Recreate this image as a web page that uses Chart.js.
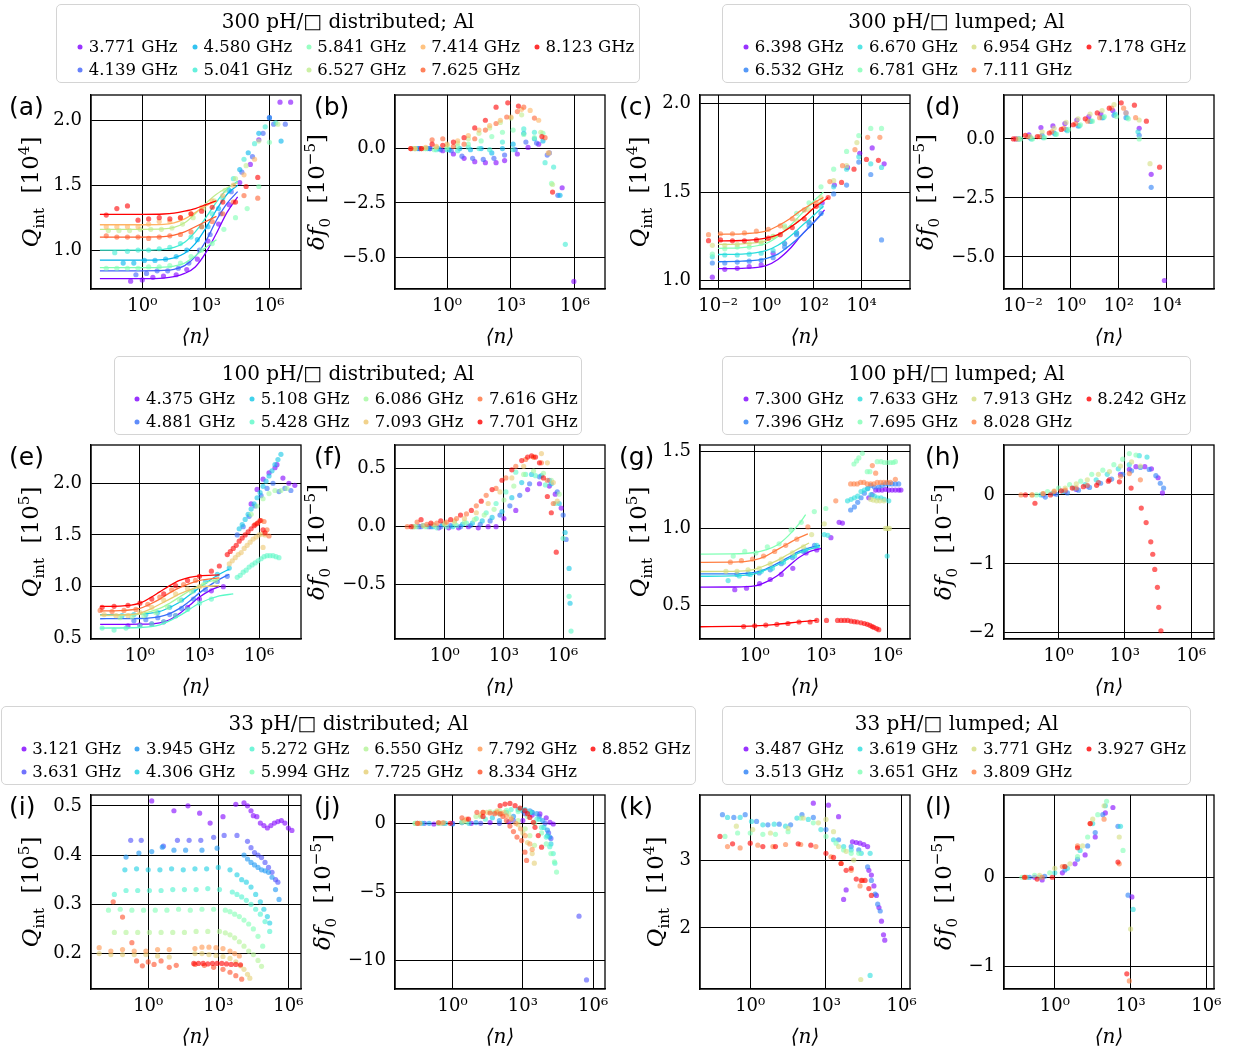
<!DOCTYPE html>
<html lang="en">
<head>
<meta charset="UTF-8" />
<title>Q_int and δf0 versus photon number</title>
<script src="https://cdn.jsdelivr.net/npm/chart.js"></script>
<style>
  body { margin: 0; background: #fff; }
  #fig { position: relative; width: 1237px; height: 1053px; overflow: hidden; font-family: 'DejaVu Serif', serif; color: #000; }
  .cell { position: absolute; }
  .tag { position: absolute; font-family: 'DejaVu Sans', sans-serif; font-size: 25px; line-height: 1; }
  .ylab { position: absolute; font-size: 23px; line-height: 1; white-space: nowrap; transform: translate(-50%, -50%) rotate(-90deg); z-index: 5; }
  .ylab sub, .ylab sup { font-size: 15px; }
  .legend { position: absolute; box-sizing: border-box; border: 1.5px solid #d4d4d4; border-radius: 5px; background: #fff; }
  .legend .ttl { position: absolute; left: 0; right: 0; text-align: center; font-size: 20px; line-height: 1; transform: translateY(-50%); white-space: nowrap; }
  .legend .item { position: absolute; font-size: 16.5px; line-height: 1; white-space: nowrap; transform: translateY(-50%); }
  .legend .dot { position: absolute; width: 5px; height: 5px; border-radius: 50%; transform: translate(-50%, -50%); }
</style>
</head>
<body>
<div id="fig"></div>
<script>
// x values are stored as log10(<n>), y values in the units printed on each axis

// ---- legend labels (resonance frequencies) ----
const f300dist = ['3.771', '4.139', '4.580', '5.041', '5.841', '6.527', '7.414', '7.625', '8.123'];
const f300lump = ['6.398', '6.532', '6.670', '6.781', '6.954', '7.111', '7.178'];
const f100dist = ['4.375', '4.881', '5.108', '5.428', '6.086', '7.093', '7.616', '7.701'];
const f100lump = ['7.300', '7.396', '7.633', '7.695', '7.913', '8.028', '8.242'];
const f33dist = ['3.121', '3.631', '3.945', '4.306', '5.272', '5.994', '6.550', '7.725', '7.792', '8.334', '8.852'];
const f33lump = ['3.487', '3.513', '3.619', '3.651', '3.771', '3.809', '3.927'];

// ---- tick labels ----
const xt3 = [0, 3, 6], xl3 = ['10⁰', '10³', '10⁶'];
const xt4 = [-2, 0, 2, 4], xl4 = ['10⁻²', '10⁰', '10²', '10⁴'];

// ---- (a) Q_int [1e4], 300 pH distributed ----
const aPts = [
  [[-0.55,0.76],[0,0.77],[0.5,0.79],[1.0,0.8],[1.6,0.81],[2.1,0.85],[2.6,0.93],[3.1,1.07],[3.6,1.2],[4.1,1.35],[4.6,1.52],[5.1,1.66],[5.5,1.85],[6.0,2.02],[6.5,2.14],[7.0,2.14]],
  [[-0.3,0.81],[0.2,0.82],[0.7,0.84],[1.2,0.84],[1.7,0.86],[2.2,0.9],[2.7,1.0],[3.2,1.12],[3.7,1.28],[4.2,1.45],[4.7,1.6],[5.2,1.72],[5.7,1.9],[6.2,1.97],[6.75,1.97]],
  [[-0.9,0.9],[-0.4,0.9],[0.1,0.92],[0.6,0.92],[1.1,0.93],[1.6,0.95],[2.1,1.0],[2.6,1.08],[3.1,1.18],[3.6,1.32],[4.1,1.46],[4.6,1.62],[5.0,1.75],[5.5,1.9],[6.0,2.02],[6.55,1.84]],
  [[-1.3,0.98],[-0.7,0.99],[-0.2,1.0],[0.3,1.0],[0.8,1.01],[1.3,1.02],[1.8,1.05],[2.3,1.1],[2.8,1.18],[3.3,1.28],[3.8,1.4],[4.3,1.55],[4.8,1.7],[5.3,1.82],[5.8,1.95],[6.3,1.98]],
  [[-1.7,0.86],[-1.2,0.86],[-0.7,0.86],[-0.2,0.86],[0.3,0.87],[0.8,0.87],[1.3,0.88],[1.8,0.9],[2.3,0.95],[2.8,1.0],[3.3,1.05],[3.85,1.16],[4.4,1.25],[4.95,1.32],[5.5,1.49],[6.0,1.83]],
  [[-1.6,1.15],[-1.1,1.15],[-0.6,1.15],[-0.1,1.16],[0.4,1.16],[0.9,1.16],[1.4,1.17],[1.9,1.2],[2.4,1.25],[2.9,1.32],[3.4,1.38],[3.9,1.46],[4.4,1.55],[4.9,1.65],[5.5,1.84],[6.4,1.97]],
  [[-1.7,1.18],[-1.2,1.18],[-0.7,1.18],[-0.2,1.18],[0.3,1.2],[0.8,1.22],[1.3,1.22],[1.8,1.25],[2.3,1.28],[2.8,1.33],[3.3,1.38],[3.8,1.42],[4.3,1.5],[4.8,1.58],[5.3,1.7]],
  [[-1.7,1.11],[-1.2,1.1],[-0.7,1.1],[-0.2,1.1],[0.3,1.09],[0.8,1.1],[1.3,1.11],[1.8,1.12],[2.3,1.14],[2.8,1.18],[3.3,1.22],[3.8,1.28],[4.3,1.37],[4.8,1.42],[5.45,1.4]],
  [[-1.7,1.27],[-1.2,1.32],[-0.7,1.34],[-0.2,1.23],[0.3,1.24],[0.8,1.25],[1.3,1.24],[1.8,1.25],[2.3,1.28],[2.8,1.3],[3.3,1.33],[3.8,1.37],[4.4,1.37],[4.9,1.49],[5.45,1.56]]
];
const aFit = [
  [[-2,0.78],[0,0.78],[1,0.784],[1.5,0.795],[2,0.82],[2.5,0.87],[3,0.98],[3.5,1.13],[4,1.29],[4.5,1.41]],
  [[-2,0.84],[0,0.84],[1,0.843],[1.5,0.852],[2,0.88],[2.5,0.95],[3,1.07],[3.5,1.23],[4,1.36],[4.5,1.45]],
  [[-2,0.923],[0,0.923],[1,0.927],[1.5,0.94],[2,0.975],[2.5,1.05],[3,1.17],[3.5,1.31],[4,1.43],[4.5,1.5]],
  [[-2,1.0],[0,1.0],[1,1.006],[1.5,1.02],[2,1.06],[2.5,1.14],[3,1.25],[3.5,1.37],[4,1.47],[4.5,1.53]],
  [[-2,0.864],[0,0.864],[1,0.868],[1.5,0.877],[2,0.9],[2.5,0.955],[3,1.02],[3.5,1.08]],
  [[-2,1.16],[0,1.16],[1,1.163],[1.5,1.175],[2,1.21],[2.5,1.28],[3,1.36],[3.5,1.43],[4,1.48],[4.5,1.52]],
  [[-2,1.195],[0,1.195],[1,1.198],[1.5,1.21],[2,1.24],[2.5,1.29],[3,1.34],[3.5,1.38]],
  [[-2,1.1],[0,1.1],[1,1.103],[1.5,1.115],[2,1.14],[2.5,1.18],[3,1.22],[3.5,1.26]],
  [[-2,1.275],[0,1.275],[1,1.278],[1.5,1.285],[2,1.3],[2.5,1.32],[3,1.35],[3.5,1.38]]
];

// ---- (b) δf0 [1e-5], 300 pH distributed ----
const bPts = [
  [[-1.3,0],[-0.8,0],[-0.2,-0.1],[0.3,-0.25],[0.8,-0.45],[1.3,-0.6],[1.8,-0.65],[2.3,-0.65],[2.7,-0.55],[3.3,-0.25],[3.8,0.05],[4.3,0.2],[4.8,-0.2],[5.4,-1.8],[5.95,-6.1]],
  [[-1.3,0],[-0.8,0],[-0.3,-0.05],[0.2,-0.1],[0.7,-0.35],[1.2,-0.45],[1.7,-0.5],[2.2,-0.45],[2.7,-0.3],[3.2,-0.05],[3.7,0.3],[4.2,0.25],[4.7,-0.3],[5.2,-2.15]],
  [[-1.4,0],[-0.9,0],[-0.4,0],[0.1,-0.05],[0.6,0],[1.1,-0.05],[1.6,0],[2.1,-0.2],[2.6,0],[3.1,0.2],[3.6,0.7],[4.1,0.45],[4.5,0.35],[5.3,-2.15]],
  [[-1.5,0],[-1,0],[-0.5,-0.05],[0,-0.05],[0.5,-0.1],[1,0.05],[1.5,0],[2,-0.05],[2.6,0.3],[3.1,-0.05],[3.6,0.9],[4.1,0.75],[4.6,-0.65],[5.0,-0.85],[5.55,-4.4]],
  [[-1.6,0],[-1.1,0],[-0.6,-0.05],[0,0.05],[0.5,0.1],[1,0.2],[1.6,0.35],[2.1,0.55],[2.6,0.75],[3.1,0.85],[3.6,0.65],[4.1,0.5],[4.5,0.7],[4.9,-1.6]],
  [[-1.5,0],[-1,0],[-0.5,0.05],[0,0.15],[0.5,0.25],[1,0.45],[1.5,0.7],[2,0.95],[2.5,1.2],[3,1.4],[3.5,1.55],[4.4,0.75],[4.8,-0.2],[4.95,-1.65]],
  [[-1.5,0],[-1,0.05],[-0.5,0.1],[0,0.2],[0.5,0.35],[1,0.6],[1.5,0.85],[2,1.05],[2.5,1.3],[3,1.45],[3.5,1.8],[3.9,1.75],[4.3,1.3],[4.75,-0.2]],
  [[-1.7,0],[-1.2,0],[-0.7,0.4],[-0.2,0.45],[0.3,0.1],[0.8,0.2],[1.3,0.45],[1.8,0.85],[2.3,1.15],[2.8,1.45],[3.3,1.7],[3.6,1.9],[4.1,1.4],[4.6,0.5]],
  [[-1.7,0],[-1.2,0],[-0.7,0.2],[-0.2,0.15],[0.3,0.3],[0.8,0.5],[1.3,0.95],[1.8,1.3],[2.3,1.9],[2.85,2.1],[3.35,1.95],[4.45,0.55],[4.95,-2.0]]
];

// ---- (c) Q_int [1e4], 300 pH lumped ----
const cPts = [
  [[-2.24,1.02],[-1.72,1.064],[-1.2,1.07],[-0.7,1.08],[-0.2,1.09],[0.3,1.155],[0.78,1.21],[1.28,1.27],[1.8,1.33],[2.35,1.44],[2.86,1.54],[3.41,1.64],[3.92,1.72],[4.44,1.75],[4.94,1.66]],
  [[-2.24,1.1],[-1.72,1.1],[-1.2,1.105],[-0.7,1.11],[-0.2,1.115],[0.3,1.13],[0.78,1.19],[1.28,1.26],[1.8,1.31],[2.3,1.38],[2.83,1.49],[3.37,1.54],[3.88,1.67],[4.38,1.6],[4.83,1.23]],
  [[-2.24,1.135],[-1.72,1.145],[-1.2,1.145],[-0.7,1.15],[-0.2,1.155],[0.3,1.17],[0.78,1.21],[1.28,1.27],[1.8,1.33],[2.3,1.42],[2.83,1.53],[3.37,1.63],[3.88,1.7],[4.38,1.66],[4.83,1.64]],
  [[-2.24,1.15],[-1.72,1.18],[-1.2,1.19],[-0.7,1.19],[-0.2,1.21],[0.3,1.25],[0.78,1.31],[1.28,1.38],[1.8,1.44],[2.3,1.53],[2.83,1.63],[3.37,1.73],[3.88,1.82],[4.38,1.86],[4.83,1.86]],
  [[-2.24,1.2],[-1.72,1.2],[-1.2,1.205],[-0.7,1.21],[-0.2,1.22],[0.3,1.25],[0.78,1.3],[1.28,1.34],[1.8,1.4],[2.3,1.47],[2.83,1.565],[3.37,1.65],[3.8,1.78]],
  [[-2.4,1.26],[-1.9,1.265],[-1.4,1.265],[-0.9,1.27],[-0.4,1.28],[0.1,1.29],[0.6,1.31],[1.1,1.35],[1.6,1.4],[2.1,1.44],[2.67,1.56],[3.2,1.65],[3.72,1.74],[4.25,1.81],[4.76,1.81]],
  [[-2.4,1.226],[-1.9,1.23],[-1.4,1.225],[-0.9,1.225],[-0.4,1.23],[0.1,1.24],[0.6,1.26],[1.1,1.3],[1.6,1.35],[2.1,1.42],[2.6,1.47],[3.16,1.555],[3.68,1.63],[4.2,1.685],[4.7,1.68]]
];
const cFit = [
  [[-2,1.068],[-1,1.07],[0,1.085],[0.5,1.12],[1,1.18],[1.5,1.26],[2,1.33],[2.45,1.4]],
  [[-2,1.107],[-1,1.11],[0,1.125],[0.5,1.15],[1,1.2],[1.5,1.26],[2,1.33],[2.4,1.385]],
  [[-2,1.148],[-1,1.15],[0,1.17],[0.5,1.2],[1,1.25],[1.5,1.31],[2,1.37],[2.4,1.42]],
  [[-2,1.183],[-1,1.187],[0,1.21],[0.5,1.25],[1,1.31],[1.5,1.38],[2,1.45],[2.4,1.5]],
  [[-2,1.205],[-1,1.208],[0,1.225],[0.5,1.255],[1,1.3],[1.5,1.35],[2,1.41],[2.4,1.46]],
  [[-2,1.262],[-1,1.265],[0,1.28],[0.5,1.31],[1,1.35],[1.5,1.4],[2,1.44],[2.4,1.47]],
  [[-2,1.225],[-1,1.227],[0,1.24],[0.5,1.26],[1,1.3],[1.5,1.35],[2,1.41],[2.6,1.47]]
];

// ---- (d) δf0 [1e-5], 300 pH lumped ----
const dPts = [
  [[-2.3,0],[-1.75,0.17],[-1.25,0.48],[-0.75,0.55],[-0.25,0.65],[0.25,0.8],[0.75,0.95],[1.25,1.05],[1.75,1.2],[2.3,1.1],[2.85,0.45],[3.35,-1.5],[3.9,-6.0]],
  [[-2.2,0],[-1.7,0.05],[-1.2,0.15],[-0.7,0.25],[-0.2,0.4],[0.3,0.55],[0.8,0.75],[1.3,0.9],[1.8,1.0],[2.3,0.9],[2.85,0.15],[3.35,-2.05]],
  [[-2.15,0],[-1.65,0],[-1.15,0.05],[-0.65,0.2],[-0.15,0.35],[0.35,0.55],[0.85,0.75],[1.35,0.9],[1.85,1.05],[2.35,0.9],[2.8,0.3]],
  [[-2.1,0],[-1.6,0],[-1.1,0.05],[-0.6,0.2],[-0.1,0.4],[0.4,0.6],[0.9,0.75],[1.4,0.95],[1.9,0.95],[2.4,0.85],[2.85,0]],
  [[-2.2,0],[-1.7,0.1],[-1.2,0.3],[-0.7,0.45],[-0.2,0.7],[0.3,0.85],[0.8,1.05],[1.3,1.2],[1.8,1.45],[2.3,1.1],[2.85,0.8],[3.3,-1.05]],
  [[-2.3,0],[-1.8,0.1],[-1.3,0.1],[-0.8,0.3],[-0.3,0.45],[0.2,0.65],[0.7,0.75],[1.2,0.9],[1.7,1.3],[2.2,1.3],[2.7,0.9]],
  [[-2.4,0],[-1.9,0.15],[-1.4,0.1],[-0.9,0.25],[-0.4,0.4],[0.1,0.6],[0.6,0.85],[1.1,1.1],[1.6,1.3],[2.1,1.53],[2.65,1.43],[3.15,0.75],[3.7,-1.2]]
];

// ---- (e) Q_int [1e5], 100 pH distributed ----
const ePts = [
  [[-0.6,0.62],[0,0.63],[0.6,0.64],[1.2,0.66],[1.8,0.72],[2.4,0.8],[3.0,0.88],[3.6,0.96],[4.2,1.0],[5.6,1.8],[5.9,1.94],[6.2,2.04],[6.5,2.1],[6.8,2.15],[6.9,2.18],[7.2,2.05],[7.5,2.0],[7.8,1.98]],
  [[-0.3,0.67],[0.3,0.68],[0.9,0.7],[1.5,0.73],[2.1,0.79],[2.7,0.88],[3.3,0.97],[3.9,1.05],[4.4,1.1],[4.9,1.5],[5.2,1.58],[5.5,1.68],[5.8,1.78],[6.1,1.88],[6.4,1.95],[6.7,2.0],[7.0,1.92],[7.3,1.95],[7.6,1.93]],
  [[-0.9,0.72],[-0.3,0.73],[0.3,0.73],[0.9,0.75],[1.5,0.8],[2.1,0.87],[2.7,0.96],[3.3,1.05],[3.9,1.12],[4.5,1.18],[5.0,1.56],[5.15,1.6],[5.3,1.65],[5.45,1.7],[5.6,1.75],[5.75,1.8],[5.9,1.86],[6.05,1.91],[6.2,1.97],[6.35,2.02],[6.5,2.07],[6.65,2.12],[6.8,2.18],[6.95,2.23],[7.1,2.28]],
  [[-1.9,0.6],[-1.3,0.58],[-0.7,0.6],[0,0.62],[0.6,0.64],[1.2,0.66],[1.8,0.72],[2.4,0.78],[3.0,0.84],[3.6,0.88],[4.9,1.09],[5.05,1.11],[5.2,1.14],[5.35,1.16],[5.5,1.19],[5.65,1.21],[5.8,1.23],[5.95,1.25],[6.1,1.27],[6.25,1.29],[6.4,1.3],[6.55,1.3],[6.7,1.3],[6.85,1.29],[7.0,1.28]],
  [[-1,0.7],[-0.4,0.71],[0.2,0.72],[0.8,0.75],[1.4,0.8],[2,0.87],[2.6,0.95],[3.2,1.02],[3.8,1.06],[5.6,1.7],[5.9,1.78],[6.2,1.85],[6.5,1.9],[6.8,1.93],[7.1,1.93],[7.4,1.95]],
  [[-1.8,0.73],[-1.2,0.72],[-0.6,0.72],[0,0.75],[0.6,0.8],[1.2,0.87],[1.8,0.93],[2.4,0.98],[3.0,1.0],[4.5,1.22],[4.65,1.25],[4.8,1.28],[4.95,1.31],[5.1,1.33],[5.25,1.37],[5.4,1.4],[5.55,1.43],[5.7,1.46],[5.85,1.48],[6.0,1.5],[6.15,1.51],[6.3,1.5],[6.2,1.38]],
  [[-2,0.77],[-1.4,0.76],[-0.8,0.77],[-0.2,0.78],[0.4,0.83],[1,0.9],[1.6,0.97],[2.2,1.02],[2.8,1.06],[5.8,1.6],[5.95,1.62],[6.1,1.64],[6.25,1.63],[6.4,1.55],[6.5,1.49]],
  [[-1.9,0.8],[-1.3,0.81],[-0.6,0.82],[0,0.84],[0.6,0.88],[1.2,0.93],[1.8,1.01],[2.4,1.06],[3.0,1.1],[3.6,1.15],[4.0,1.2],[4.4,1.31],[4.55,1.34],[4.7,1.37],[4.85,1.4],[5.0,1.44],[5.15,1.47],[5.3,1.5],[5.45,1.53],[5.6,1.56],[5.75,1.59],[5.9,1.61],[6.05,1.64],[6.2,1.55],[6.3,1.52]]
];
const eFit = [
  [[-2,0.635],[0,0.637],[1,0.65],[1.5,0.68],[2,0.74],[2.5,0.82],[3,0.9],[3.5,0.96],[4,1.0]],
  [[-2,0.69],[0,0.692],[1,0.71],[1.5,0.74],[2,0.79],[2.5,0.86],[3,0.94],[3.5,1.01],[4,1.07],[4.5,1.12]],
  [[-2,0.73],[0,0.735],[1,0.76],[1.5,0.8],[2,0.85],[2.5,0.92],[3,0.99],[3.5,1.06],[4,1.12],[4.5,1.17]],
  [[-2,0.6],[0,0.605],[1,0.63],[2,0.72],[3,0.84],[4,0.91],[4.7,0.93]],
  [[-2,0.72],[-1,0.722],[0,0.735],[1,0.79],[1.5,0.84],[2,0.9],[2.5,0.96],[3,1.01],[3.5,1.05],[4,1.07]],
  [[-2,0.725],[-1,0.727],[0,0.745],[0.5,0.78],[1,0.83],[1.5,0.88],[2,0.93],[2.5,0.97],[3,0.995],[4,1.01]],
  [[-2,0.765],[-1,0.768],[0,0.79],[0.5,0.83],[1,0.88],[1.5,0.94],[2,0.99],[2.5,1.03],[3,1.06],[4,1.085]],
  [[-2,0.81],[-1,0.812],[0,0.84],[0.5,0.89],[1,0.95],[1.5,1.01],[2,1.06],[2.5,1.09],[3,1.105],[4,1.115]]
];

// ---- (f) δf0 [1e-5], 100 pH distributed ----
const fPts = [
  [[-1.3,0],[-0.8,0],[-0.3,-0.01],[0.2,-0.01],[0.7,-0.01],[1.2,0],[1.7,-0.01],[2.2,0],[2.6,0],[3.0,0.07],[3.6,0.14],[4.2,0.32],[4.8,0.37],[5.3,0.35],[5.6,0.28],[5.9,0.16]],
  [[-1.2,0],[-0.7,0],[-0.2,0],[0.3,0.01],[0.8,0],[1.3,0.01],[1.8,0.02],[2.3,0.05],[2.8,0.1],[3.3,0.18],[3.8,0.27],[4.3,0.37],[4.8,0.43],[5.3,0.4],[5.7,0.3],[6.0,0.1],[6.15,-0.11]],
  [[-1.6,0],[-1.1,0.01],[-0.6,0],[-0.1,0.02],[0.4,0],[0.9,0.02],[1.4,0.03],[1.9,0.05],[2.4,0.08],[2.9,0.13],[3.4,0.25],[3.9,0.38],[4.4,0.45],[4.9,0.44],[5.4,0.37],[5.8,0.2],[6.1,-0.05],[6.3,-0.36],[6.35,-0.66]],
  [[-1.4,0],[-0.9,0],[-0.4,-0.01],[0.1,0],[0.6,0.01],[1.1,0.03],[1.6,0.07],[2.1,0.12],[2.6,0.2],[3.1,0.3],[3.6,0.47],[4.1,0.45],[4.6,0.44],[5.1,0.36],[5.6,0.2],[6.0,-0.1],[6.3,-0.6],[6.4,-0.9]],
  [[-1.5,0],[-1,0],[-0.5,0.01],[0,0.02],[0.5,0.03],[1,0.04],[1.5,0.06],[2,0.1],[2.5,0.15],[3,0.23],[3.5,0.35],[4,0.45],[4.5,0.48],[5,0.46],[5.4,0.4],[5.8,0.28]],
  [[-1.6,0],[-1.1,0.01],[-0.6,0.02],[0,0.03],[0.5,0.05],[1,0.07],[1.6,0.12],[2.2,0.2],[2.8,0.3],[3.4,0.42],[4.0,0.52],[4.5,0.6],[4.9,0.63],[5.2,0.55],[5.5,0.38],[5.7,0.22]],
  [[-1.9,0],[-1.4,0.04],[-0.9,0.02],[-0.4,0.03],[0.1,0.04],[0.6,0.07],[1.1,0.11],[1.6,0.18],[2.1,0.27],[2.6,0.33],[3.1,0.42],[3.6,0.52],[4.1,0.58],[4.5,0.6],[4.9,0.55],[5.2,0.4],[5.5,0.2]],
  [[-1.7,0],[-1.2,0.06],[-0.7,0.03],[-0.2,0.05],[0.3,0.06],[0.8,0.1],[1.35,0.14],[1.85,0.22],[2.4,0.32],[2.9,0.4],[3.4,0.49],[3.9,0.57],[4.2,0.6],[4.4,0.61],[4.6,0.6],[4.8,0.55],[5.0,0.42],[5.2,0.26],[5.4,0.12],[5.65,-0.22]]
];

// ---- (g) Q_int [1e5], 100 pH lumped ----
const gPts = [
  [[-0.9,0.6],[-0.37,0.61],[0.22,0.64],[0.7,0.667],[1.2,0.7],[1.72,0.74],[2.32,0.84],[2.8,0.86],[3.44,0.94],[3.81,1.04],[3.96,1.035],[5.15,1.2],[5.3,1.22],[5.46,1.25],[5.6,1.25],[5.75,1.25],[5.9,1.255],[6.05,1.25],[6.2,1.25],[6.35,1.25],[6.5,1.25],[6.6,1.25]],
  [[-0.8,0.7],[-0.3,0.705],[0.2,0.71],[0.7,0.73],[1.2,0.77],[1.7,0.81],[2.2,0.85],[2.7,0.89],[4.33,1.12],[4.5,1.14],[4.65,1.17],[4.8,1.2],[4.95,1.23],[5.1,1.26],[5.25,1.28],[5.4,1.27],[5.6,1.27],[5.75,1.28],[5.9,1.29],[6.05,1.29],[6.2,1.29],[6.35,1.29],[6.5,1.29]],
  [[-1.2,0.66],[-0.7,0.69],[-0.2,0.7],[0.3,0.72],[0.8,0.74],[1.3,0.78],[1.8,0.82],[2.3,0.86],[2.8,0.89],[3.14,0.96],[3.3,0.955],[4.19,1.18],[4.35,1.19],[4.5,1.2],[4.65,1.21],[4.8,1.24],[4.95,1.25],[5.1,1.26],[5.25,1.22],[5.4,1.21],[5.55,1.2],[5.7,1.2],[5.85,1.19],[6.05,1.18],[5.98,0.82]],
  [[-0.97,0.82],[-0.45,0.85],[0.05,0.84],[0.57,0.88],[1.1,0.9],[1.64,0.99],[2.1,1.04],[2.69,1.11],[3.21,1.13],[4.48,1.42],[4.6,1.44],[4.7,1.46],[4.86,1.49],[5.08,1.37],[5.2,1.37],[5.53,1.435],[5.7,1.435],[5.85,1.43],[6.0,1.43],[6.13,1.43],[6.25,1.43],[6.35,1.435]],
  [[-1.3,0.72],[-0.8,0.72],[-0.3,0.73],[0.2,0.74],[0.7,0.77],[1.2,0.8],[1.7,0.84],[2.2,0.88],[2.57,0.96],[3.14,1.03],[5.23,1.19],[5.35,1.185],[5.5,1.18],[5.65,1.18],[5.83,1.18],[5.9,1.0],[6.0,1.0],[6.08,1.0]],
  [[-1.1,0.78],[-0.6,0.79],[-0.1,0.8],[0.4,0.82],[0.9,0.85],[1.4,0.89],[1.9,0.93],[2.4,1.01],[3.66,1.18],[4.33,1.29],[4.48,1.29],[4.63,1.29],[4.78,1.3],[4.93,1.3],[5.08,1.29],[5.23,1.29],[5.31,1.41],[5.46,1.36],[5.38,1.29],[5.53,1.3],[5.68,1.3],[5.83,1.3],[5.98,1.3],[6.13,1.3],[6.35,1.32]],
  [[-0.5,0.36],[0,0.365],[0.5,0.37],[1,0.375],[1.5,0.38],[2,0.39],[2.5,0.39],[2.8,0.4],[3.24,0.4],[3.74,0.4],[3.9,0.4],[4.05,0.4],[4.2,0.4],[4.35,0.395],[4.5,0.392],[4.63,0.39],[4.8,0.385],[4.95,0.38],[5.08,0.375],[5.2,0.368],[5.3,0.36],[5.38,0.355],[5.5,0.347],[5.6,0.34]]
];
const gFit = [
  [[-2.5,0.617],[-1,0.618],[0,0.625],[0.5,0.65],[1,0.69],[1.5,0.75],[2,0.81],[2.5,0.85],[3,0.87]],
  [[-2.5,0.703],[-1,0.704],[0,0.713],[0.5,0.735],[1,0.77],[1.5,0.81],[2,0.85],[2.5,0.875],[2.95,0.89]],
  [[-2.5,0.688],[-1,0.69],[0,0.703],[0.5,0.73],[1,0.76],[1.5,0.8],[2,0.84],[2.5,0.865],[2.95,0.88]],
  [[-2.5,0.833],[-1,0.834],[0,0.843],[0.5,0.86],[1,0.89],[1.5,0.95],[2,1.03],[2.3,1.09]],
  [[-2.5,0.719],[-1,0.72],[0,0.733],[0.5,0.76],[1,0.79],[1.5,0.83],[2,0.87],[2.45,0.905]],
  [[-2.5,0.779],[-1,0.78],[0,0.795],[0.5,0.82],[1,0.86],[1.5,0.9],[2,0.94],[2.4,0.965]],
  [[-2.5,0.359],[-1,0.361],[0,0.365],[1,0.375],[2,0.39],[2.8,0.4]]
];

// ---- (h) δf0 [1e-5], 100 pH lumped ----
const hPts = [
  [[-0.7,0],[-0.2,0.02],[0.3,0.05],[0.8,0.08],[1.3,0.13],[1.8,0.18],[2.3,0.22],[2.8,0.3],[3.2,0.37],[3.5,0.41],[3.9,0.41],[4.2,0.38],[4.5,0.25],[4.7,0.03]],
  [[-0.6,-0.03],[-0.1,0.01],[0.4,0.03],[0.9,0.07],[1.4,0.11],[1.9,0.17],[2.4,0.23],[2.9,0.3],[3.3,0.35],[3.7,0.4],[4.1,0.37],[4.4,0.28],[4.6,0.17],[4.75,0.1]],
  [[-0.8,0],[-0.3,0.02],[0.2,0.05],[0.7,0.1],[1.2,0.15],[1.7,0.22],[2.2,0.3],[2.7,0.38],[3.2,0.44],[3.65,0.57],[4.0,0.55]],
  [[-1,0],[-0.5,0.05],[0,0.1],[0.5,0.15],[1,0.2],[1.5,0.3],[2,0.36],[2.5,0.44],[2.9,0.52],[3.2,0.6],[3.5,0.58]],
  [[-1.2,0],[-0.7,0.02],[-0.2,0.06],[0.3,0.1],[0.8,0.16],[1.3,0.22],[1.8,0.3],[2.3,0.34],[2.8,0.42],[3.3,0.48],[3.7,0.42]],
  [[-1.7,0],[-1.2,0],[-0.7,0.02],[-0.2,0.05],[0.3,0.07],[0.8,0.1],[1.3,0.14],[1.8,0.18],[2.3,0.22],[2.8,0.27],[3.2,0.31],[3.7,0.22]],
  [[-1.5,0],[-1.07,-0.12],[-0.37,0],[0.12,0.06],[0.62,0.1],[1.12,0.12],[1.72,0.14],[2.25,0.2],[2.75,0.19],[3.28,0.1],[3.74,-0.19],[3.96,-0.4],[4.17,-0.68],[4.26,-0.86],[4.35,-1.08],[4.47,-1.34],[4.53,-1.63],[4.63,-1.97]]
];

// ---- (i) Q_int [1e5], 33 pH distributed ----
const iPts = [
  [[0.15,0.51],[1.1,0.49],[1.7,0.5],[2.2,0.485],[2.65,0.465],[3.2,0.478],[3.75,0.503],[4.1,0.506],[4.25,0.5],[4.4,0.49],[4.5,0.48],[4.65,0.478],[4.8,0.465],[4.95,0.46],[5.1,0.455],[5.25,0.46],[5.4,0.465],[5.55,0.468],[5.7,0.47],[5.85,0.465],[6.0,0.455],[6.15,0.45]],
  [[-0.75,0.43],[-0.3,0.43],[0.65,0.418],[1.25,0.43],[1.75,0.43],[2.25,0.43],[2.8,0.436],[3.25,0.44],[3.8,0.44],[4.25,0.428],[4.4,0.415],[4.55,0.405],[4.7,0.4],[4.85,0.395],[5.0,0.385],[5.15,0.375],[5.3,0.365],[5.45,0.35],[5.55,0.345]],
  [[-0.95,0.396],[-0.4,0.404],[0.15,0.407],[0.6,0.416],[1.1,0.41],[1.6,0.41],[2.3,0.41],[2.95,0.414],[4.1,0.4],[4.25,0.392],[4.4,0.385],[4.55,0.38],[4.7,0.375],[4.85,0.37],[5.0,0.368],[5.15,0.365],[5.3,0.355],[5.45,0.33],[5.6,0.31]],
  [[-1,0.37],[-0.5,0.372],[0,0.37],[0.5,0.37],[1,0.372],[1.5,0.37],[2,0.372],[2.5,0.372],[3.0,0.375],[3.5,0.37],[3.8,0.36],[4.0,0.35],[4.2,0.345],[4.4,0.335],[4.6,0.32],[4.8,0.305],[4.95,0.29],[5.1,0.275],[5.2,0.262]],
  [[-1.45,0.32],[-0.95,0.328],[-0.45,0.328],[0.05,0.328],[0.55,0.328],[1.05,0.33],[1.55,0.33],[2.05,0.33],[2.55,0.332],[3.05,0.33],[3.6,0.325],[3.8,0.32],[4.0,0.315],[4.2,0.308],[4.4,0.3],[4.6,0.29],[4.8,0.28],[5.0,0.265],[5.2,0.245]],
  [[-1.7,0.288],[-1.2,0.29],[-0.7,0.288],[-0.2,0.288],[0.3,0.288],[0.8,0.288],[1.3,0.29],[1.8,0.288],[2.3,0.29],[2.8,0.29],[3.3,0.288],[3.5,0.285],[3.7,0.28],[3.9,0.275],[4.1,0.268],[4.3,0.26],[4.5,0.25],[4.7,0.235],[4.9,0.215]],
  [[-1.45,0.243],[-0.95,0.243],[-0.45,0.243],[0.05,0.243],[0.55,0.243],[1.05,0.243],[1.55,0.243],[2.05,0.245],[2.55,0.245],[3.05,0.245],[3.3,0.242],[3.5,0.238],[3.7,0.232],[3.9,0.224],[4.1,0.215],[4.3,0.205],[4.5,0.198],[4.7,0.186],[4.85,0.174]],
  [[-2.1,0.2],[-1.6,0.198],[-1.1,0.198],[-0.6,0.198],[-0.1,0.198],[0.4,0.195],[0.9,0.193],[2.0,0.2],[2.3,0.2],[2.6,0.198],[2.9,0.196],[3.2,0.194],[3.5,0.19],[3.75,0.183],[3.95,0.175],[4.1,0.168],[4.25,0.158],[4.35,0.15]],
  [[-2.1,0.212],[-1.6,0.205],[-1.1,0.208],[-0.6,0.205],[-0.1,0.205],[0.4,0.208],[0.9,0.208],[2.0,0.21],[2.3,0.213],[2.6,0.213],[2.9,0.212],[3.2,0.21],[3.5,0.205],[3.7,0.2],[3.9,0.195]],
  [[-1.5,0.305],[-1.1,0.274],[-0.7,0.222],[-0.5,0.185],[-0.25,0.175],[0,0.183],[0.25,0.178],[0.55,0.185],[0.9,0.172],[1.2,0.176],[2.0,0.178],[2.4,0.176],[2.8,0.172],[3.2,0.168],[3.5,0.162],[3.75,0.155],[4.0,0.148]],
  [[1.95,0.18],[2.15,0.18],[2.35,0.18],[2.55,0.179],[2.75,0.18],[2.95,0.18],[3.15,0.18],[3.35,0.179],[3.55,0.178],[3.75,0.178],[3.95,0.177]]
];

// ---- (j) δf0 [1e-5], 33 pH distributed ----
const jPts = [
  [[-1.5,0],[-0.8,-0.05],[0,0],[0.8,0],[1.6,0.05],[2.4,0.1],[3.0,0.2],[3.4,0.6],[3.73,0.68],[4.0,0.4],[4.16,0.07],[4.3,-0.05]],
  [[-1.2,0],[-0.4,0],[0.4,0.05],[1.2,0],[2.0,0],[2.6,0.2],[3.1,0.7],[3.4,0.8],[3.7,0.5],[3.95,0],[4.1,-0.7],[4.2,-1.1],[5.4,-6.76],[5.72,-11.4]],
  [[-1,0],[0,-0.05],[1,0.05],[2,0.2],[2.6,0.5],[3.0,0.9],[3.3,0.9],[3.6,0.7],[3.85,0.2],[4.05,-0.5],[4.15,-1.0]],
  [[-1.3,0],[-0.3,0],[0.7,0],[1.7,0.4],[2.3,0.8],[2.8,1.0],[3.1,1.0],[3.4,0.8],[3.7,0.3],[3.9,-0.3],[4.05,-0.9],[4.2,-1.5]],
  [[-1.6,0],[-0.6,0],[0.4,0.05],[1.4,0.3],[2.0,0.7],[2.5,1.0],[2.9,1.05],[3.3,0.8],[3.6,0.3],[3.8,-0.3],[4.0,-1.0],[4.15,-1.7],[4.3,-2.2],[4.37,-2.9]],
  [[-1.4,0],[-0.4,0],[0.6,0.1],[1.2,0.5],[1.8,0.8],[2.3,0.95],[2.8,0.85],[3.2,0.5],[3.5,0],[3.8,-0.7],[4.0,-1.5],[4.2,-2.2],[4.35,-2.8],[4.44,-3.55]],
  [[-1.6,0],[-0.6,0],[0.4,0.1],[1.0,0.5],[1.6,0.85],[2.0,0.9],[2.4,0.7],[2.8,0.2],[3.1,-0.4],[3.3,-0.9],[3.5,-1.6]],
  [[-1.5,0],[-0.5,0],[0.5,0.2],[1.2,0.6],[1.46,0.8],[1.9,0.9],[2.2,0.8],[2.5,0.4],[2.8,-0.1],[3.0,-0.7],[3.2,-1.4],[3.4,-2.2],[3.49,-2.9]],
  [[-1.4,0],[-0.4,0.05],[0.6,0.3],[1.3,0.8],[1.89,0.8],[2.1,0.7],[2.3,0.55],[2.5,0.3],[2.7,0],[2.9,-0.4],[3.1,-0.9],[3.3,-1.5],[3.4,-1.9]],
  [[-1.5,0],[-0.6,0.05],[0.4,0.4],[1.04,0.8],[1.3,0.8],[1.6,0.75],[1.8,0.7],[2.03,0.68],[2.15,0.5],[2.3,0.2],[2.45,-0.2],[2.6,-0.6],[2.75,-1.0],[2.95,-1.26],[3.09,-2.1],[3.16,-2.7]],
  [[-0.1,0],[0.68,0.31],[1.3,0.5],[2.03,1.28],[2.24,1.4],[2.45,1.45],[2.67,1.28],[2.88,1.11],[3.09,0.92],[3.2,0.7],[3.3,0.43],[3.45,0.07],[3.52,-0.29],[3.66,-0.89],[3.8,-1.74]]
];

// ---- (k) Q_int [1e4], 33 pH lumped ----
const kPts = [
  [[2.5,3.84],[3.1,3.81],[3.5,3.64],[3.7,2.42],[3.8,2.56],[4.05,3.27],[4.2,3.26],[4.35,3.25],[4.5,3.23],[4.65,3.2],[4.7,2.85],[4.8,2.78],[4.9,2.62],[5.0,2.48],[5.1,2.3],[5.2,2.1],[5.28,1.9],[5.33,1.82]],
  [[-1.1,3.67],[-0.65,3.63],[-0.2,3.67],[0.25,3.57],[0.7,3.52],[1.15,3.53],[1.6,3.52],[2.05,3.67],[2.5,3.63],[3.0,3.45],[3.5,3.3],[4.0,3.2],[4.3,3.15],[4.65,2.9],[4.8,2.7],[4.95,2.5],[5.05,2.35],[5.15,2.25]],
  [[-0.9,3.63],[-0.4,3.63],[0.05,3.57],[0.5,3.52],[0.95,3.53],[1.4,3.5],[1.85,3.62],[2.3,3.6],[2.8,3.45],[3.3,3.3],[3.7,3.2],[4.0,3.15],[4.4,3.1],[4.75,3.1],[4.75,1.3]],
  [[-1.0,3.35],[-0.5,3.4],[0,3.4],[0.5,3.38],[1.0,3.38],[1.5,3.42],[2.0,3.62],[2.5,3.55],[3.0,3.35],[3.4,3.25],[3.7,3.15],[4.0,3.1],[4.3,3.1]],
  [[-0.55,3.5],[0.1,3.45],[0.8,3.4],[1.5,3.47],[2.1,3.62],[2.7,3.55],[3.0,3.6],[3.3,3.42],[3.5,3.2],[3.8,3.13],[4.1,3.0],[4.38,1.24]],
  [[-0.9,3.2],[-0.4,3.18],[0.3,3.22],[0.9,3.2],[1.4,3.23],[2.0,3.23],[2.6,3.2],[3.2,3.05],[3.6,2.95],[4.0,2.85],[4.35,2.62],[4.45,2.7]],
  [[-1.2,3.35],[-0.7,3.24],[0,3.25],[0.5,3.2],[1.0,3.2],[1.9,3.24],[2.4,3.22],[3.0,3.1],[3.3,3.04],[3.6,2.95],[3.8,2.85],[4.0,2.88],[4.2,2.72],[4.4,2.7],[4.55,2.7],[4.7,2.58],[4.8,2.48]]
];

// ---- (l) δf0 [1e-5], 33 pH lumped ----
const lPts = [
  [[-0.8,0],[-0.5,-0.03],[0.3,0.05],[0.8,0.15],[1.2,0.25],[1.6,0.45],[2.0,0.72],[2.3,0.78],[3.05,-0.22]],
  [[-1.0,0],[-0.4,0.01],[0.4,0.08],[0.9,0.2],[1.3,0.35],[1.6,0.5],[1.9,0.7],[2.5,0.57],[2.9,-0.2]],
  [[-1.1,0],[-0.6,0],[0,0.05],[0.5,0.1],[1.0,0.3],[1.5,0.6],[2.0,0.8],[2.6,0.57],[3.1,-0.36]],
  [[-1.3,0],[-0.8,0.02],[-0.2,0.05],[0.4,0.12],[0.9,0.23],[1.3,0.45],[1.7,0.7],[2.05,0.85],[2.7,0.3]],
  [[-1.2,0],[-0.6,0.02],[0,0.1],[0.6,0.15],[1.1,0.35],[1.5,0.65],[1.95,0.8],[2.55,0.45],[3.0,-0.58]],
  [[-1.15,0],[-0.5,0],[0.3,0.12],[0.9,0.35],[1.4,0.6],[1.95,0.65],[2.55,0.15],[2.95,-1.16]],
  [[-1.2,0],[-0.7,-0.02],[-0.1,0],[0.4,0.12],[0.9,0.33],[1.4,0.6],[2.5,0.17],[2.85,-1.08]]
];

// ---------------- layout ----------------
const COLS = [[91, 301], [395, 605], [700, 910], [1004, 1214]];
const ROWS = [[95, 289], [445, 639], [795, 989]];
const PADL = 62, PADT = 24, PADR = 20, PADB = 65;
const QLAB = e => `<i>Q</i><sub>int</sub>&nbsp;&nbsp;[10<sup>${e}</sup>]`;
const DLAB = `<i>δf</i><sub>0</sub>&nbsp;&nbsp;[10<sup>−5</sup>]`;

const panels = [
  { tag: '(a)', c: 0, r: 0, xr: [-2.42, 7.49], yr: [0.70, 2.195], xt: xt3, xl: xl3, yt: [1, 1.5, 2], yl: ['1.0', '1.5', '2.0'], pts: aPts, fit: aFit, lab: QLAB(4), lx: 31.6 },
  { tag: '(b)', c: 1, r: 0, xr: [-2.44, 7.41], yr: [-6.45, 2.46], xt: xt3, xl: xl3, yt: [-5, -2.5, 0], yl: ['−5.0', '−2.5', '0.0'], pts: bPts, lab: DLAB, lx: 318.3 },
  { tag: '(c)', c: 2, r: 0, xr: [-2.756, 6.02], yr: [0.953, 2.049], xt: xt4, xl: xl4, yt: [1, 1.5, 2], yl: ['1.0', '1.5', '2.0'], pts: cPts, fit: cFit, lab: QLAB(4), lx: 639.7 },
  { tag: '(d)', c: 3, r: 0, xr: [-2.79, 5.97], yr: [-6.36, 1.86], xt: xt4, xl: xl4, yt: [-5, -2.5, 0], yl: ['−5.0', '−2.5', '0.0'], pts: dPts, lab: DLAB, lx: 927 },
  { tag: '(e)', c: 0, r: 1, xr: [-2.46, 8.11], yr: [0.494, 2.37], xt: xt3, xl: xl3, yt: [0.5, 1, 1.5, 2], yl: ['0.5', '1.0', '1.5', '2.0'], pts: ePts, fit: eFit, lab: QLAB(5), lx: 31.6 },
  { tag: '(f)', c: 1, r: 1, xr: [-2.52, 8.12], yr: [-0.968, 0.704], xt: xt3, xl: xl3, yt: [-0.5, 0, 0.5], yl: ['−0.5', '0.0', '0.5'], pts: fPts, lab: DLAB, lx: 318 },
  { tag: '(g)', c: 2, r: 1, xr: [-2.47, 7.01], yr: [0.279, 1.544], xt: xt3, xl: xl3, yt: [0.5, 1, 1.5], yl: ['0.5', '1.0', '1.5'], pts: gPts, fit: gFit, lab: QLAB(5), lx: 639.7 },
  { tag: '(h)', c: 3, r: 1, xr: [-2.47, 7.03], yr: [-2.09, 0.725], xt: xt3, xl: xl3, yt: [-2, -1, 0], yl: ['−2', '−1', '0'], pts: hPts, lab: DLAB, lx: 944.6 },
  { tag: '(i)', c: 0, r: 2, xr: [-2.45, 6.54], yr: [0.128, 0.522], xt: xt3, xl: xl3, yt: [0.2, 0.3, 0.4, 0.5], yl: ['0.2', '0.3', '0.4', '0.5'], pts: iPts, lab: QLAB(5), lx: 31.6 },
  { tag: '(j)', c: 1, r: 2, xr: [-2.46, 6.51], yr: [-12.06, 2.06], xt: xt3, xl: xl3, yt: [-10, -5, 0], yl: ['−10', '−5', '0'], pts: jPts, lab: DLAB, lx: 324 },
  { tag: '(k)', c: 2, r: 2, xr: [-1.99, 6.33], yr: [1.10, 3.96], xt: xt3, xl: xl3, yt: [2, 3], yl: ['2', '3'], pts: kPts, lab: QLAB(4), lx: 657 },
  { tag: '(l)', c: 3, r: 2, xr: [-2.01, 6.30], yr: [-1.25, 0.92], xt: xt3, xl: xl3, yt: [-1, 0], yl: ['−1', '0'], pts: lPts, lab: DLAB, lx: 944.6 }
];
const TAGX = [9, 314, 619, 925];

const legends = [
  { l: 56, t: 4, r: 640, b: 83, ty: 20, rows: [46.2, 68.7], cols: [79.1, 193.8, 307.6, 421.5, 535.8], title: '300 pH/□ distributed; Al', freqs: f300dist },
  { l: 722, t: 4, r: 1191, b: 83, ty: 20, rows: [46.2, 68.7], cols: [745.1, 859.3, 973.4, 1087.5], title: '300 pH/□ lumped; Al', freqs: f300lump },
  { l: 114, t: 356, r: 582, b: 435, ty: 372, rows: [398.3, 420.7], cols: [136.4, 251.1, 365, 479.2], title: '100 pH/□ distributed; Al', freqs: f100dist },
  { l: 722, t: 356, r: 1191, b: 435, ty: 372, rows: [398.3, 420.7], cols: [745.1, 859.3, 973.4, 1087.5], title: '100 pH/□ lumped; Al', freqs: f100lump },
  { l: 1, t: 706, r: 696, b: 785, ty: 722, rows: [748.3, 770.7], cols: [22.5, 136.4, 251.1, 364.6, 478.5, 592], title: '33 pH/□ distributed; Al', freqs: f33dist },
  { l: 722, t: 706, r: 1191, b: 785, ty: 722, rows: [748.3, 770.7], cols: [745.1, 859.3, 973.4, 1087.5], title: '33 pH/□ lumped; Al', freqs: f33lump }
];

// matplotlib "rainbow" colormap
function rainbow(t, a) {
  const r = Math.min(1, Math.abs(2 * t - 0.5)), g = Math.sin(Math.PI * t), b = Math.cos(Math.PI * t / 2);
  return `rgba(${Math.round(255 * r)},${Math.round(255 * g)},${Math.round(255 * b)},${a})`;
}

const fig = document.getElementById('fig');

const framePlugin = {
  id: 'frame',
  afterDraw(chart) {
    const { ctx, chartArea: a } = chart;
    ctx.save();
    ctx.strokeStyle = '#000';
    ctx.lineWidth = 1.3;
    ctx.strokeRect(a.left, a.top, a.right - a.left, a.bottom - a.top);
    ctx.restore();
  }
};

const toXY = arr => arr.map(([lx, y]) => ({ x: Math.pow(10, lx), y: y }));

panels.forEach(p => {
  const [l, r] = COLS[p.c], [t, b] = ROWS[p.r];
  const W = (r - l) + PADL + PADR, H = (b - t) + PADT + PADB;
  const box = document.createElement('div');
  box.className = 'cell';
  box.style.left = (l - PADL) + 'px';
  box.style.top = (t - PADT) + 'px';
  const cv = document.createElement('canvas');
  cv.width = W; cv.height = H;
  cv.style.width = W + 'px'; cv.style.height = H + 'px';
  box.appendChild(cv);
  fig.appendChild(box);

  const n = p.pts.length;
  const datasets = [];
  // later (redder) series drawn on top, as in the original
  for (let k = n - 1; k >= 0; k--) {
    const col = n > 1 ? k / (n - 1) : 0;
    if (p.fit) {
      datasets.push({
        data: toXY(p.fit[k]), showLine: true, pointRadius: 0, borderWidth: 1.3,
        borderColor: rainbow(col, 1), cubicInterpolationMode: 'monotone', fill: false
      });
    }
    datasets.push({
      data: toXY(p.pts[k]), showLine: false, pointRadius: 2.6, borderWidth: 0,
      backgroundColor: rainbow(col, 0.6), pointStyle: 'circle'
    });
  }

  new Chart(cv, {
    type: 'scatter',
    data: { datasets },
    plugins: [framePlugin],
    options: {
      responsive: false,
      animation: false,
      devicePixelRatio: 1,
      layout: { padding: { left: 0, top: PADT, right: PADR, bottom: 0 } },
      plugins: { legend: { display: false }, tooltip: { enabled: false } },
      scales: {
        x: {
          type: 'logarithmic',
          min: Math.pow(10, p.xr[0]), max: Math.pow(10, p.xr[1]),
          afterBuildTicks: s => { s.ticks = p.xt.map(v => ({ value: Math.pow(10, v) })); },
          afterFit: s => { s.height = PADB; },
          grid: { color: '#000', lineWidth: 1, drawTicks: false },
          border: { color: '#000', width: 1.3 },
          ticks: {
            autoSkip: false, maxRotation: 0, padding: 7, color: '#000',
            font: { family: 'DejaVu Serif', size: 18 },
            callback: (v, i) => p.xl[i]
          },
          title: {
            display: true, text: '⟨n⟩', color: '#000',
            font: { family: 'DejaVu Serif', size: 20, style: 'italic' },
            padding: { top: 0, bottom: 4 }
          }
        },
        y: {
          type: 'linear',
          min: p.yr[0], max: p.yr[1],
          afterBuildTicks: s => { s.ticks = p.yt.map(v => ({ value: v })); },
          afterFit: s => { s.width = PADL; },
          grid: { color: '#000', lineWidth: 1, drawTicks: false },
          border: { color: '#000', width: 1.3 },
          ticks: {
            autoSkip: false, padding: 9, color: '#000',
            font: { family: 'DejaVu Serif', size: 18 },
            callback: (v, i) => p.yl[i]
          }
        }
      }
    }
  });

  const tag = document.createElement('div');
  tag.className = 'tag';
  tag.textContent = p.tag;
  tag.style.left = TAGX[p.c] + 'px';
  tag.style.top = (t - 1) + 'px';
  fig.appendChild(tag);

  const yl = document.createElement('div');
  yl.className = 'ylab';
  yl.innerHTML = p.lab;
  yl.style.left = p.lx + 'px';
  yl.style.top = ((t + b) / 2) + 'px';
  fig.appendChild(yl);
});

legends.forEach(g => {
  const el = document.createElement('div');
  el.className = 'legend';
  el.style.left = g.l + 'px';
  el.style.top = g.t + 'px';
  el.style.width = (g.r - g.l) + 'px';
  el.style.height = (g.b - g.t) + 'px';
  const ttl = document.createElement('div');
  ttl.className = 'ttl';
  ttl.textContent = g.title;
  ttl.style.top = (g.ty - g.t) + 'px';
  el.appendChild(ttl);
  const n = g.freqs.length;
  g.freqs.forEach((f, k) => {
    const cx = g.cols[Math.floor(k / 2)] - g.l, cy = g.rows[k % 2] - g.t;
    const dot = document.createElement('div');
    dot.className = 'dot';
    dot.style.left = cx + 'px';
    dot.style.top = cy + 'px';
    dot.style.background = rainbow(n > 1 ? k / (n - 1) : 0, 0.8);
    el.appendChild(dot);
    const it = document.createElement('div');
    it.className = 'item';
    it.textContent = f + ' GHz';
    it.style.left = (cx + 8.7) + 'px';
    it.style.top = cy + 'px';
    el.appendChild(it);
  });
  fig.appendChild(el);
});
</script>
</body>
</html>
